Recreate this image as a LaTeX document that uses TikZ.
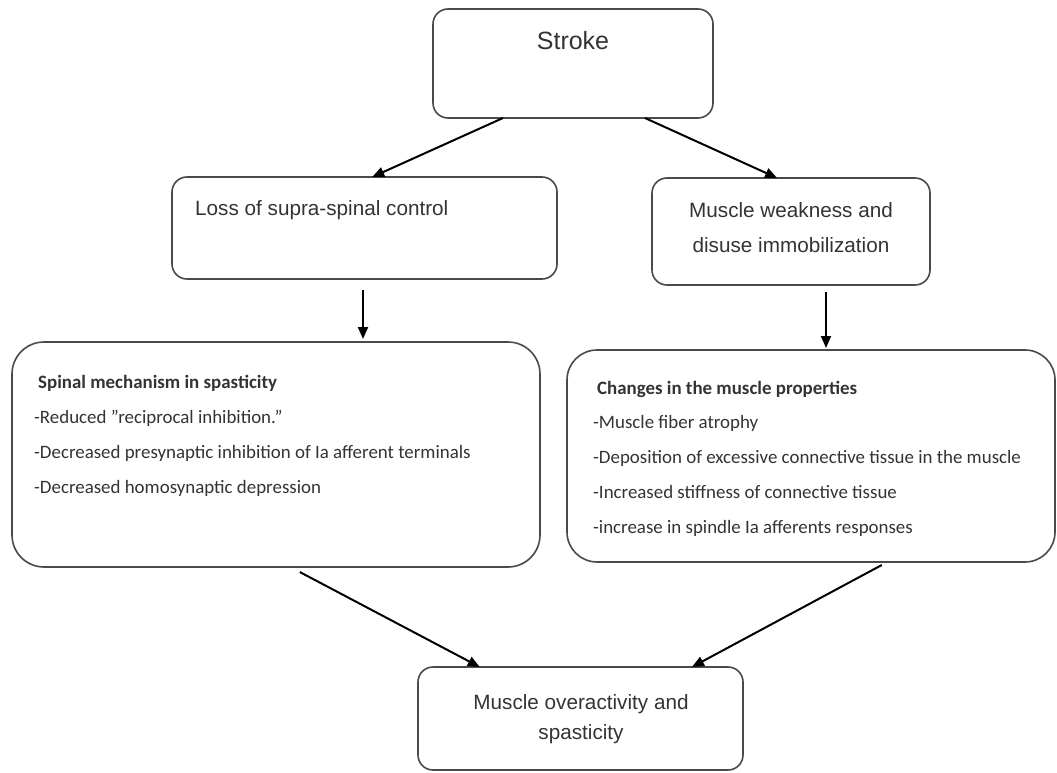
\documentclass[tikz,border=0pt]{standalone}
\usepackage{fontspec}
\setmainfont{Liberation Sans}
\newfontfamily\calfont{Carlito}
\usetikzlibrary{arrows.meta,calc}
\definecolor{boxline}{HTML}{4A4A4A}
\definecolor{txt}{HTML}{333333}
\begin{document}
\begin{tikzpicture}[x=1pt,y=-1pt,
  box/.style={draw=boxline,line width=1.6pt,rounded corners=#1,inner sep=0pt,outer sep=0pt},
  box/.default=15pt,
  arr/.style={line width=2pt,draw=black,-{Triangle[length=12pt,width=10pt]}},
  big/.style={inner sep=0pt,text=txt,font=\fontsize{20.7}{25}\selectfont},
  small/.style={inner sep=0pt,text=txt,anchor=base west,font=\calfont\fontsize{18.9}{22}\selectfont}]
\useasboundingbox (0,0) rectangle (1057,773);
% boxes
\node[box, minimum width=280pt, minimum height=109pt] (stroke) at (573,63.5) {};
\node[box, minimum width=385pt, minimum height=102pt] (loss) at (364.5,228) {};
\node[box, minimum width=278pt, minimum height=107pt] (mw) at (791,231.5) {};
\node[box=32pt, minimum width=528pt, minimum height=225pt] (spinal) at (276,454.5) {};
\node[box=30pt, minimum width=488pt, minimum height=212pt] (changes) at (811,456) {};
\node[box, minimum width=325pt, minimum height=103pt] (bottom) at (580.5,718.5) {};
% texts
\node[big, font=\fontsize{25}{30}\selectfont, anchor=base] (tstroke) at (573,50) {Stroke};
\node[big, anchor=base west] (tloss) at (195,215) {Loss of supra-spinal control};
\node[big, anchor=base] (tmw1) at (791,217) {Muscle weakness and};
\node[big, anchor=base] (tmw2) at (791,252) {disuse immobilization};
\node[big, anchor=base] (tb1) at (581,709) {Muscle overactivity and};
\node[big, anchor=base] (tb2) at (581,739) {spasticity};
\node[small] (sp0) at (38,388) {\bfseries Spinal mechanism in spasticity};
\node[small] (sp1) at (34,423) {-Reduced ”reciprocal inhibition.”};
\node[small] (sp2) at (34,458) {-Decreased presynaptic inhibition of Ia afferent terminals};
\node[small] (sp3) at (34,493) {-Decreased homosynaptic depression};
\node[small] (ch0) at (597,394) {\bfseries Changes in the muscle properties};
\node[small] (ch1) at (593,428) {-Muscle fiber atrophy};
\node[small] (ch2) at (593,463) {-Deposition of excessive connective tissue in the muscle};
\node[small] (ch3) at (593,498) {-Increased stiffness of connective tissue};
\node[small] (ch4) at (593,533) {-increase in spindle Ia afferents responses};
% connectors
\draw[arr] ($(stroke.south west)!0.25!(stroke.south east)$) -- ($(loss.north west)!0.52!(loss.north east)$);
\draw[arr] ($(stroke.south west)!0.757!(stroke.south east)$) -- ($(mw.north west)!0.45!(mw.north east)$);
\coordinate (lossout) at ($(loss.south)+(-1.5,11)$);
\draw[arr, shorten >=3pt] (lossout) -- (lossout |- spinal.north);
\coordinate (mwout) at ($(mw.south west)+(174,7)$);
\draw[arr, shorten >=2pt] (mwout) -- (mwout |- changes.north);
\draw[arr] ($(spinal.south west)!0.545!(spinal.south east)+(0,5)$) -- ($(bottom.north west)!0.19!(bottom.north east)$);
\draw[arr] ($(changes.south west)!0.645!(changes.south east)+(0,3)$) -- ($(bottom.north west)!0.843!(bottom.north east)$);
\end{tikzpicture}
\end{document}
